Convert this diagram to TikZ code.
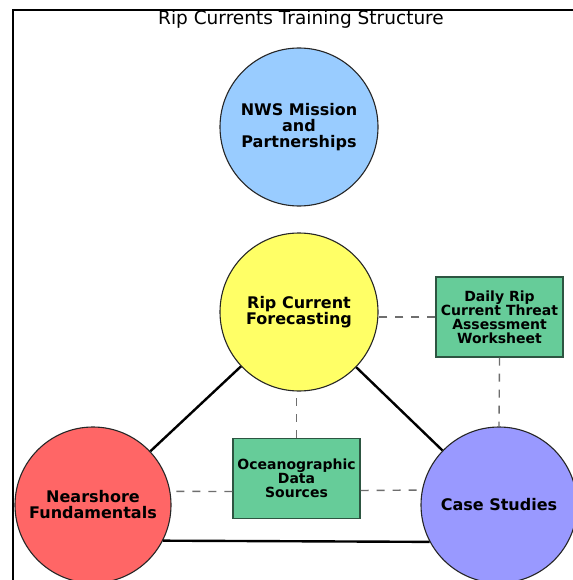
\documentclass[tikz,border=0pt]{standalone}
\usepackage{fontspec}
\setmainfont{DejaVu Sans}
\definecolor{nwsblue}{RGB}{153,204,255}
\definecolor{ripyellow}{RGB}{255,255,102}
\definecolor{nearred}{RGB}{255,102,102}
\definecolor{casepurple}{RGB}{153,153,255}
\definecolor{boxgreen}{RGB}{102,204,153}
\definecolor{boxedge}{RGB}{45,85,65}
\definecolor{dashgray}{RGB}{110,110,110}
\begin{document}
\begin{tikzpicture}[x=1bp,y=-1bp,
  circ/.style={circle, draw=black!85, line width=1.1bp, minimum size=158bp, inner sep=0pt, align=center,
    font=\fontsize{16bp}{16bp}\selectfont\bfseries},
  resbox/.style={rectangle, draw=boxedge, line width=1.4bp, fill=boxgreen, minimum width=127bp,
    minimum height=80bp, inner sep=0pt, align=center, font=\fontsize{14bp}{14bp}\selectfont\bfseries},
  link/.style={line width=2.4bp, black},
  dlink/.style={line width=1.4bp, dashgray, dash pattern=on 8bp off 8bp}]
\useasboundingbox (0,0) rectangle (573,580);
\fill[white] (0,0) rectangle (573,580);
% frame
\draw[line width=2bp] (13,580) -- (13,10) -- (573,10);
% title
\node[anchor=base, font=\fontsize{18.5bp}{20bp}\selectfont, inner sep=0pt] (T) at (301,25) {Rip Currents Training Structure};
% nodes
\node[circ, fill=nwsblue] (M) at (299,127) {NWS Mission\\and\\Partnerships};
\node[circ, fill=ripyellow] (F) at (299,312) {Rip Current\\Forecasting};
\node[circ, fill=nearred, minimum size=156bp] (N) at (93,505) {Nearshore\\Fundamentals};
\node[circ, fill=casepurple, minimum size=156bp] (C) at (499,505) {Case Studies};
\node[resbox] (D) at (499.5,317) {Daily Rip\\Current Threat\\Assessment\\Worksheet};
\node[resbox] (O) at (296.5,478.5) {Oceanographic\\Data\\Sources};
% solid links
\draw[link] (F) -- (N);
\draw[link] (F) -- (C);
\draw[link] (N.-27.5) -- (C.-152.5);
% dashed links
\draw[dlink] (D.west) -- (F.east |- D.west);
\draw[dlink] (D.south) -- (C.north);
\draw[dlink] (O.north) -- (O.north |- F.south);
\draw[dlink] ([yshift=-13bp]O.west) -- (N.10.2);
\draw[dlink] ([yshift=-12bp]O.east) -- (C.169.1);
\end{tikzpicture}
\end{document}
